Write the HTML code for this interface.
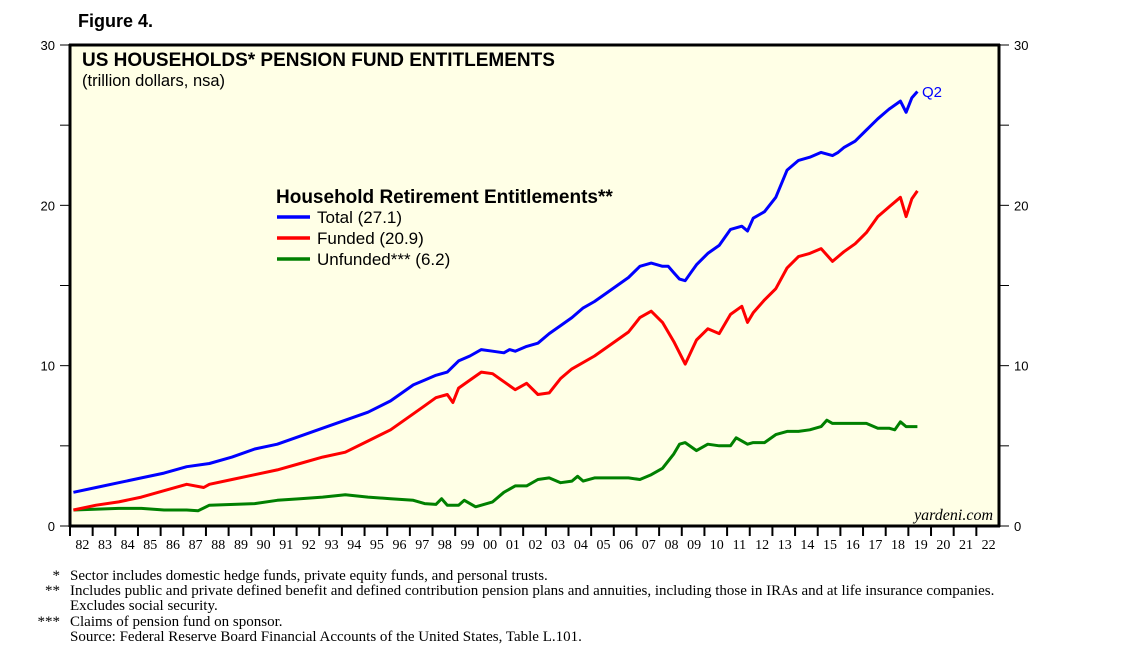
<!DOCTYPE html>
<html><head><meta charset="utf-8"><style>
body{margin:0;background:#fff;width:1138px;height:656px;overflow:hidden;font-family:"Liberation Sans",sans-serif}
svg{display:block}
</style></head><body>
<svg id="c" width="1138" height="656" xmlns="http://www.w3.org/2000/svg">
<text x="78" y="27" font-size="18" font-weight="bold">Figure 4.</text>
<rect x="70" y="45" width="929" height="481" fill="#ffffe6" stroke="#000" stroke-width="1"/>
<line x1="70" y1="44" x2="70" y2="527" stroke="#000" stroke-width="3"/>
<line x1="999" y1="44" x2="999" y2="527" stroke="#000" stroke-width="3"/>
<line x1="69" y1="526" x2="1000" y2="526" stroke="#000" stroke-width="3"/>
<line x1="69" y1="45" x2="1000" y2="45" stroke="#000" stroke-width="3"/>
<text x="82" y="66" font-size="19" font-weight="bold">US HOUSEHOLDS* PENSION FUND ENTITLEMENTS</text>
<text x="82" y="86" font-size="16.5">(trillion dollars, nsa)</text>
<g id="axes"></g>
<g id="series"></g>
<text x="922" y="97" font-size="15" fill="#0000ff">Q2</text>
<g>
<text x="276" y="203" font-size="19" font-weight="bold">Household Retirement Entitlements**</text>
<line x1="277" y1="217" x2="310" y2="217" stroke="#0000ff" stroke-width="3.5"/>
<text x="317" y="223" font-size="17">Total (27.1)</text>
<line x1="277" y1="238" x2="310" y2="238" stroke="#ff0000" stroke-width="3.5"/>
<text x="317" y="244" font-size="17">Funded (20.9)</text>
<line x1="277" y1="259" x2="310" y2="259" stroke="#008000" stroke-width="3.5"/>
<text x="317" y="265" font-size="17">Unfunded*** (6.2)</text>
</g>
<text x="993" y="520" font-size="16" font-style="italic" font-family="Liberation Serif,serif" text-anchor="end">yardeni.com</text>
<g font-family="Liberation Serif,serif" font-size="15">
<text x="60" y="580" text-anchor="end">*</text><text x="70" y="580">Sector includes domestic hedge funds, private equity funds, and personal trusts.</text>
<text x="60" y="595" text-anchor="end">**</text><text x="70" y="595">Includes public and private defined benefit and defined contribution pension plans and annuities, including those in IRAs and at life insurance companies.</text>
<text x="70" y="610">Excludes social security.</text>
<text x="60" y="626" text-anchor="end">***</text><text x="70" y="626">Claims of pension fund on sponsor.</text>
<text x="70" y="641">Source: Federal Reserve Board Financial Accounts of the United States, Table L.101.</text>
</g>
</svg>
<script>
const yTicks=[0,10,20,30];
const yearLabels=["82","83","84","85","86","87","88","89","90","91","92","93","94","95","96","97","98","99","00","01","02","03","04","05","06","07","08","09","10","11","12","13","14","15","16","17","18","19","20","21","22"];
const totalX=[1982,1983,1984,1985,1986,1987,1988,1989,1990,1991,1992,1993,1994,1995,1996,1997,1997.5,1998,1998.5,1999,1999.5,2000,2000.5,2001,2001.25,2001.5,2002,2002.5,2003,2003.5,2004,2004.5,2005,2005.5,2006,2006.5,2007,2007.5,2007.75,2008,2008.25,2008.5,2008.75,2009,2009.25,2009.5,2010,2010.5,2011,2011.5,2011.75,2012,2012.5,2013,2013.5,2014,2014.5,2015,2015.5,2015.75,2016,2016.5,2017,2017.5,2018,2018.5,2018.75,2019,2019.25];
const totalV=[2.1,2.4,2.7,3.0,3.3,3.7,3.9,4.3,4.8,5.1,5.6,6.1,6.6,7.1,7.8,8.8,9.1,9.4,9.6,10.3,10.6,11.0,10.9,10.8,11.0,10.9,11.2,11.4,12.0,12.5,13.0,13.6,14.0,14.5,15.0,15.5,16.2,16.4,16.3,16.2,16.2,15.8,15.4,15.3,15.8,16.3,17.0,17.5,18.5,18.7,18.4,19.2,19.6,20.5,22.2,22.8,23.0,23.3,23.1,23.3,23.6,24.0,24.7,25.4,26.0,26.5,25.8,26.7,27.1];
const fundedX=[1982,1983,1984,1985,1986,1987,1987.75,1988,1989,1990,1991,1992,1993,1994,1995,1996,1997,1997.5,1998,1998.5,1998.75,1999,1999.5,2000,2000.5,2001,2001.5,2002,2002.5,2003,2003.5,2004,2005,2006,2006.5,2007,2007.5,2008,2008.5,2009,2009.5,2010,2010.5,2011,2011.5,2011.75,2012,2012.5,2013,2013.5,2014,2014.5,2015,2015.5,2016,2016.5,2017,2017.5,2018,2018.5,2018.75,2019,2019.25];
const fundedV=[1.0,1.3,1.5,1.8,2.2,2.6,2.4,2.6,2.9,3.2,3.5,3.9,4.3,4.6,5.3,6.0,7.0,7.5,8.0,8.2,7.7,8.6,9.1,9.6,9.5,9.0,8.5,8.9,8.2,8.3,9.2,9.8,10.6,11.6,12.1,13.0,13.4,12.7,11.5,10.1,11.6,12.3,12.0,13.2,13.7,12.7,13.3,14.1,14.8,16.1,16.8,17.0,17.3,16.5,17.1,17.6,18.3,19.3,19.9,20.5,19.3,20.4,20.9];
const unfundedX=[1982,1984,1985,1986,1987,1987.5,1988,1990,1991,1992,1993,1994,1995,1996,1997,1997.5,1998,1998.25,1998.5,1999,1999.25,1999.75,2000,2000.5,2001,2001.5,2002,2002.5,2003,2003.5,2004,2004.25,2004.5,2005,2006,2006.5,2007,2007.5,2008,2008.5,2008.75,2009,2009.5,2010,2010.5,2011,2011.25,2011.75,2012,2012.5,2013,2013.5,2014,2014.5,2015,2015.25,2015.5,2016,2017,2017.5,2018,2018.25,2018.5,2018.75,2019.25];
const unfundedV=[1.0,1.1,1.1,1.0,1.0,0.95,1.3,1.4,1.6,1.7,1.8,1.95,1.8,1.7,1.6,1.4,1.35,1.7,1.3,1.3,1.6,1.2,1.3,1.5,2.1,2.5,2.5,2.9,3.0,2.7,2.8,3.1,2.8,3.0,3.0,3.0,2.9,3.2,3.6,4.5,5.1,5.2,4.7,5.1,5.0,5.0,5.5,5.1,5.2,5.2,5.7,5.9,5.9,6.0,6.2,6.6,6.4,6.4,6.4,6.1,6.1,6.0,6.5,6.2,6.2];
const NS='http://www.w3.org/2000/svg';
const X0=70,PW=929,Y0=526,PH=481,YMAX=30,X1=1982,NY=41;
const xs=t=>X0+(t-X1+0.15)*PW/NY;
const ys=v=>Y0-v/YMAX*PH;
function mk(tag,a,p){const e=document.createElementNS(NS,tag);for(const k in a)e.setAttribute(k,a[k]);p.appendChild(e);return e;}
const ax=document.getElementById('axes');
for(let v=0;v<=30;v+=5){
  const l=mk('line',{x1:60,x2:70,y1:ys(v),y2:ys(v),stroke:'#000','stroke-width':1},ax);
  
  
  const r=mk('line',{x1:999,x2:1009,y1:ys(v),y2:ys(v),stroke:'#000','stroke-width':1},ax);
  
  
}
yTicks.forEach(v=>{
  const a=mk('text',{x:55,y:ys(v)+5,'text-anchor':'end','font-size':13,'font-family':'Liberation Sans,sans-serif'},ax);a.textContent=v;
  
  
  const b=mk('text',{x:1014,y:ys(v)+5,'font-size':13},ax);b.textContent=v;
  
  
});
const xw=PW/NY;
yearLabels.forEach((s,i)=>{
  const x=X0+i*xw;
  const t=mk('line',{x1:x,x2:x,y1:526,y2:536,stroke:'#000','stroke-width':2},ax);
  
  
  const l=mk('text',{x:x+xw/2+1,y:549,'text-anchor':'middle','font-size':14,'font-family':'Liberation Serif,serif'},ax);l.textContent=s;
  
  
});
const sg=document.getElementById('series');
[[unfundedX,unfundedV,'#008000','line-unfunded'],[fundedX,fundedV,'#ff0000','line-funded'],[totalX,totalV,'#0000ff','line-total']].forEach(([X,V,c,n])=>{
  const p=mk('polyline',{points:X.map((t,i)=>xs(t).toFixed(1)+','+ys(V[i]).toFixed(1)).join(' '),fill:'none',stroke:c,'stroke-width':3,'stroke-linejoin':'round'},sg);
  
  
});
</script>
</body></html>
